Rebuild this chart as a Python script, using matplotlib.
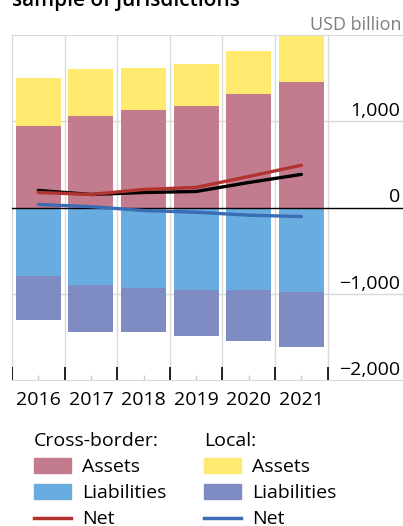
import numpy as np
import matplotlib.pyplot as plt
from matplotlib.patches import Patch
from matplotlib.lines import Line2D

plt.rcParams['font.family'] = ['Open Sans', 'DejaVu Sans']

# data (USD billion)
years = ['2016', '2017', '2018', '2019', '2020', '2021']
cb_assets = [942, 1058, 1128, 1174, 1314, 1453]
local_assets = [558, 547, 488, 489, 500, 535]
cb_liabs = [-791, -895, -930, -953, -953, -977]
local_liabs = [-511, -547, -512, -535, -594, -639]
cb_net = [174, 151, 209, 233, 360, 490]
total_net = [198, 151, 174, 186, 290, 384]
local_net = [35, 10, -35, -55, -89, -105]
y_ticks = [-2000, -1000, 0, 1000]
y_labels = ['\u22122,000', '\u22121,000', '0', '1,000']

# colours
c_cb_assets = '#c27c8e'
c_loc_assets = '#ffe96f'
c_cb_liabs = '#69ade0'
c_loc_liabs = '#7f8cc4'
c_red = '#b0332f'
c_blue = '#3a6db3'
c_grid = '#d9d9d9'

fig = plt.figure(figsize=(4.03, 5.26), dpi=100)
ax = fig.add_axes([12/403, 146/526, 391/403, 345/526])

x = np.arange(len(years))
w = 0.855
ax.bar(x, cb_assets, w, color=c_cb_assets, zorder=2)
ax.bar(x, local_assets, w, bottom=cb_assets, color=c_loc_assets, zorder=2)
ax.bar(x, cb_liabs, w, color=c_cb_liabs, zorder=2)
ax.bar(x, local_liabs, w, bottom=cb_liabs, color=c_loc_liabs, zorder=2)

ax.plot(x, total_net, color='black', lw=2.4, zorder=4, solid_capstyle='round')
ax.plot(x, cb_net, color=c_red, lw=2.4, zorder=5, solid_capstyle='round')
ax.plot(x, local_net, color=c_blue, lw=2.4, zorder=5, solid_capstyle='round')

ax.set_xlim(-0.5, 6.93)
ax.set_ylim(-2000, 2000)

# grid
bounds = np.arange(len(years) + 1) - 0.5
ax.vlines(bounds, -2000, 2000, color=c_grid, lw=1, zorder=1)
for v in y_ticks:
    if v == 0:
        ax.axhline(0, color='black', lw=1, zorder=3)
    elif v != -2000:
        ax.axhline(v, color=c_grid, lw=1, zorder=1)
ax.vlines(bounds, -2000, -1850, color='black', lw=1.2, zorder=3)
ax.vlines(x, -2000, -1945, color='#cccccc', lw=1, zorder=3)

for s in ['top', 'bottom', 'left']:
    ax.spines[s].set_color(c_grid)
ax.spines['right'].set_visible(False)

ax.set_xticks(x, years)
ax.tick_params(axis='x', length=0, pad=8, labelsize=14)
ax.set_yticks([])
for v, lab in zip(y_ticks, y_labels):
    ax.text(0.993, v + 58, lab, transform=ax.get_yaxis_transform(),
            ha='right', va='baseline', fontsize=14)

fig.text(402/403, 1 - 30/526, 'USD billion', ha='right', va='baseline',
         fontsize=13, color='#7f7f7f')
# title is cut off at the top edge, as in the original
fig.text(12/403, 1 - 6/526, 'sample of jurisdictions', ha='left', va='baseline',
         fontsize=15, fontweight='semibold')

# legends
leg_kw = dict(loc='upper left', frameon=False, fontsize=14, title_fontsize=14,
              alignment='left', handlelength=1.9, handleheight=0.75,
              handletextpad=0.55, labelspacing=0.42, borderpad=0, borderaxespad=0)
h1 = [Patch(color=c_cb_assets), Patch(color=c_cb_liabs),
      Line2D([], [], color=c_red, lw=2.5)]
h2 = [Patch(color=c_loc_assets), Patch(color=c_loc_liabs),
      Line2D([], [], color=c_blue, lw=2.5)]
fig.legend(h1, ['Assets', 'Liabilities', 'Net'], title='Cross-border:',
           bbox_to_anchor=(34/403, 1 - 432/526), **leg_kw)
fig.legend(h2, ['Assets', 'Liabilities', 'Net'], title='Local:',
           bbox_to_anchor=(204/403, 1 - 432/526), **leg_kw)

fig.savefig('out.png', dpi=100)
